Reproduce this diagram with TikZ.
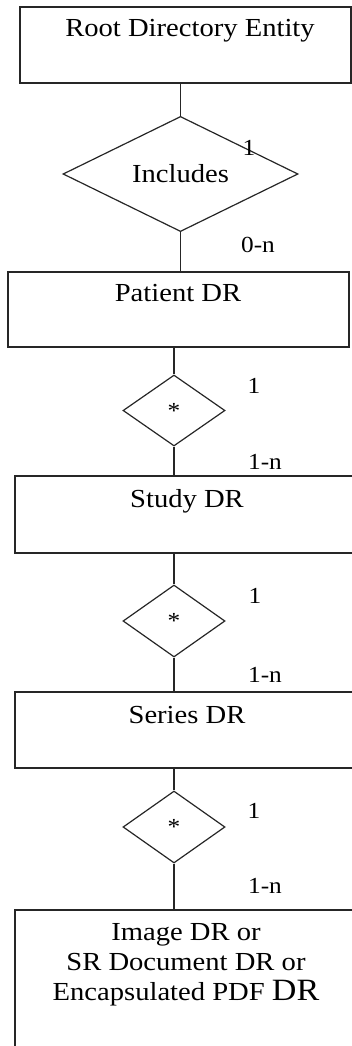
\documentclass[tikz,border=0pt]{standalone}
\usepackage{fontspec}
\setmainfont[FakeStretch=1.1]{Liberation Serif}
\usetikzlibrary{shapes.geometric}
\begin{document}
\begin{tikzpicture}[x=1pt,y=-1pt,
  conn/.style={draw=black!85, line width=1.2pt},
  ent/.style={draw=black!85, line width=1.2pt, rectangle, inner sep=0pt},
  rel/.style={draw=black!85, line width=1.2pt, diamond, aspect=1, inner sep=0pt},
  etext/.style={anchor=base, inner sep=0pt, font=\fontsize{26}{30}\selectfont},
  card/.style={anchor=base, inner sep=0pt, font=\fontsize{23}{27}\selectfont}]
\useasboundingbox (0,0) rectangle (352,1046);
\clip (0,0) rectangle (352,1046);
% entities
\node[ent, minimum width=331pt, minimum height=76pt] (root) at (185.5,45) {};
\node[ent, minimum width=341pt, minimum height=75pt] (pat) at (178.5,309.5) {};
\node[ent, minimum width=345pt, minimum height=77pt] (study) at (187.5,514.5) {};
\node[ent, minimum width=345pt, minimum height=76pt] (series) at (187.5,730) {};
\node[ent, minimum width=345pt, minimum height=150pt] (img) at (187.5,985) {};
% entity texts
\node[etext] (rootT) at (190,37) {Root Directory Entity};
\node[etext] (patT) at (178,301) {Patient DR};
\node[etext] (studyT) at (187,507) {Study DR};
\node[etext] (seriesT) at (187,723) {Series DR};
\node[etext, align=center, font=\fontsize{26}{30}\selectfont] (imgT) at (186,1000) {Image DR or\\SR Document DR or\\Encapsulated PDF {\fontsize{31}{31}\selectfont DR}};
% relationships
\node[rel, minimum width=235pt, minimum height=94pt, font=\fontsize{26}{30}\selectfont] (inc) at (180.5,174) {Includes};
\node[rel, minimum width=102pt, minimum height=71pt, font=\fontsize{23}{27}\selectfont] (r2) at (174,410.5) {*};
\node[rel, minimum width=102pt, minimum height=72pt, font=\fontsize{23}{27}\selectfont] (r3) at (174,621) {*};
\node[rel, minimum width=102pt, minimum height=72pt, font=\fontsize{23}{27}\selectfont] (r4) at (174,827) {*};
% connectors
\draw[conn] (inc.north) -- (inc.north |- root.south);
\draw[conn] (inc.south) -- (inc.south |- pat.north);
\draw[conn] (r2.north) -- (r2.north |- pat.south);
\draw[conn] (r2.south) -- (r2.south |- study.north);
\draw[conn] (r3.north) -- (r3.north |- study.south);
\draw[conn] (r3.south) -- (r3.south |- series.north);
\draw[conn] (r4.north) -- (r4.north |- series.south);
\draw[conn] (r4.south) -- (r4.south |- img.north);
% cardinalities
\node[card] (c1a) at (249,155) {1};
\node[card] (c1b) at (258,252) {0-n};
\node[card] (c2a) at (254,393) {1};
\node[card] (c2b) at (265,469) {1-n};
\node[card] (c3a) at (255,603) {1};
\node[card] (c3b) at (265,682) {1-n};
\node[card] (c4a) at (254,818) {1};
\node[card] (c4b) at (265,893) {1-n};
\end{tikzpicture}
\end{document}
